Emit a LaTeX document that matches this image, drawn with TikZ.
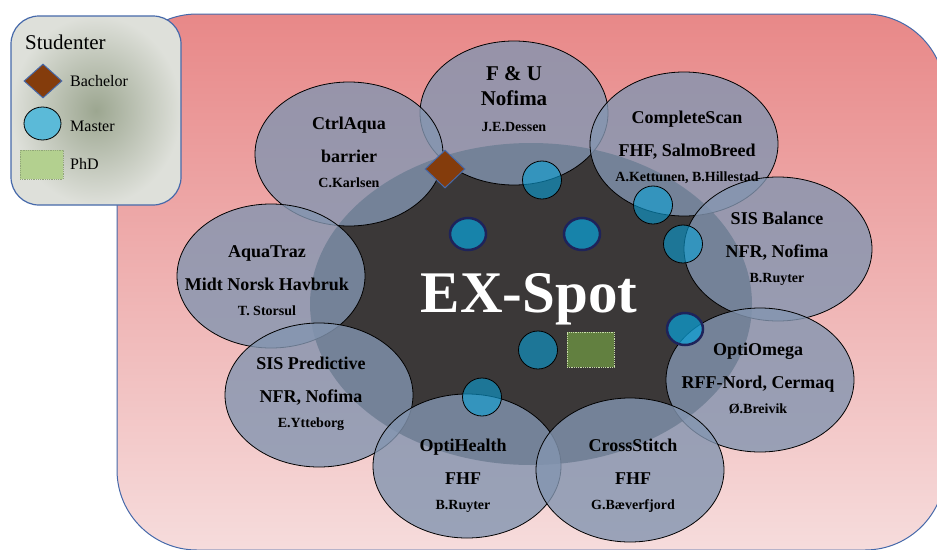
\documentclass[tikz,border=0pt]{standalone}
\usepackage{fontspec}
\setmainfont{Liberation Serif}
\usetikzlibrary{shapes.geometric}
\definecolor{bgtop}{RGB}{232,136,136}
\definecolor{bgbot}{RGB}{246,220,220}
\definecolor{frame}{RGB}{70,105,170}
\definecolor{spotgray}{RGB}{59,56,56}
\definecolor{projblue}{RGB}{131,149,176}
\definecolor{masterblue}{RGB}{10,160,215}
\definecolor{legblue}{RGB}{91,186,216}
\definecolor{navy}{RGB}{30,35,90}
\definecolor{bachbrown}{RGB}{132,60,12}
\definecolor{phdgreen}{RGB}{179,208,143}
\definecolor{phddark}{RGB}{98,128,64}
\definecolor{phdline}{RGB}{200,220,170}
\definecolor{legin}{RGB}{156,166,144}
\definecolor{legout}{RGB}{222,224,218}
\tikzstyle{project}=[%
  ellipse,
  draw=black,
  line width=0.8pt,
  fill=projblue,
  fill opacity=0.8,
  minimum width=188pt,
  minimum height=144pt
]
\tikzstyle{master}=[%
  ellipse,
  draw=black,
  line width=0.8pt,
  fill=masterblue,
  fill opacity=0.6,
  inner sep=0pt,
  minimum width=39pt,
  minimum height=38pt
]
\tikzstyle{masterring}=[%
  master,
  draw=navy,
  line width=2.5pt,
  fill opacity=0.72,
  minimum width=36pt,
  minimum height=32pt
]
\tikzstyle{bachelor}=[%
  diamond,
  draw=frame,
  line width=1pt,
  fill=bachbrown,
  inner sep=0pt,
  minimum width=40pt,
  minimum height=38pt
]
\tikzstyle{phd}=[%
  rectangle,
  draw=phdline,
  densely dotted,
  line width=0.8pt,
  inner sep=0pt
]
\tikzstyle{projtitle}=[anchor=base, font=\bfseries\fontsize{18}{20}\selectfont]
\tikzstyle{projname}=[anchor=base, font=\bfseries\fontsize{14}{16}\selectfont]
\tikzstyle{legtext}=[anchor=base west, inner sep=0pt, font=\fontsize{16}{18}\selectfont]

\begin{document}
\begin{tikzpicture}[x=1pt, y=-1pt]
      \useasboundingbox (0,0) rectangle (937,549);
      \clip (0,0) rectangle (937,549);
      \fill[white] (0,0) rectangle (937,549);
      \shadedraw[top color=bgtop, bottom color=bgbot, draw=frame, line width=1pt,
        rounded corners=80pt] (117,14) rectangle (945,550);
      \shadedraw[inner color=legin, outer color=legout, draw=frame, line width=1.2pt,
        rounded corners=28pt] (11,16) rectangle (181,205);
      \node[legtext, font=\fontsize{21}{24}\selectfont] (legend) at (25,49) {Studenter};
      \node[bachelor, minimum width=38pt, minimum height=34pt] (legbach) at (43,81) {};
      \node[master, fill=legblue, fill opacity=1, minimum width=37pt, minimum height=33pt]
        (legmaster) at (42.5,123.5) {};
      \node[phd, draw=phddark!70, fill=phdgreen, minimum width=43pt, minimum height=29pt]
        (legphd) at (41.5,164.5) {};
      \node[legtext] at (70,86) {Bachelor};
      \node[legtext] at (70,131) {Master};
      \node[legtext] at (70,169) {PhD};
      \node[ellipse, fill=spotgray, minimum width=442pt, minimum height=322pt] (spot) at (531,304) {};
      \foreach \name/\x/\y in {fou/514/113, ctrl/349/154, scan/684/144, balance/778/249,
        traz/271/276, predictive/319/395, omega/760/380, health/467/466, stitch/630/470} {%
        \node[project] (\name) at (\x,\y) {};
      }
      \foreach \name/\x/\y in {ma/542/180, mb/653/205, mc/683/244, md/538/350, me/482/397} {%
        \node[master] (\name) at (\x,\y) {};
      }
      \foreach \name/\x/\y in {mf/468/234, mg/582/234, mh/685/329} {%
        \node[masterring] (\name) at (\x,\y) {};
      }
      \node[bachelor] (ba) at (445,169) {};
      \node[phd, fill=phddark, minimum width=47pt, minimum height=35pt] (pa) at (590.5,349.5) {};
      \node[anchor=base, text=white, font=\bfseries\fontsize{59}{61}\selectfont]
        (spotlabel) at (529,312) {EX-Spot};
      \node[projtitle, font=\bfseries\fontsize{21}{24}\selectfont] (fou-t) at (514,80) {F \& U};
      \node[projtitle, font=\bfseries\fontsize{21}{24}\selectfont] (fou-f) at (514,105) {Nofima};
      \node[projname] (fou-p) at (514,131) {J.E.Dessen};
      \foreach \name/\x/\y/\ttl/\fnd/\who in {%
        ctrl/349/129/CtrlAqua/barrier/C.Karlsen,
        scan/687/123/CompleteScan/{FHF, SalmoBreed}/{A.Kettunen, B.Hillestad},
        balance/777/224/SIS Balance/{NFR, Nofima}/B.Ruyter,
        traz/267/257/AquaTraz/Midt Norsk Havbruk/T. Storsul,
        predictive/311/369/SIS Predictive/{NFR, Nofima}/E.Ytteborg,
        omega/758/355/OptiOmega/{RFF-Nord, Cermaq}/Ø.Breivik,
        health/463/451/OptiHealth/FHF/B.Ruyter,
        stitch/633/451/CrossStitch/FHF/G.Bæverfjord} {%
        \node[projtitle] (\name-t) at (\x,\y) {\ttl};
        \node[projtitle] (\name-f) at (\x,\y+33) {\fnd};
        \node[projname] (\name-p) at (\x,\y+58) {\who};
      }
    \end{tikzpicture}
\end{document}
